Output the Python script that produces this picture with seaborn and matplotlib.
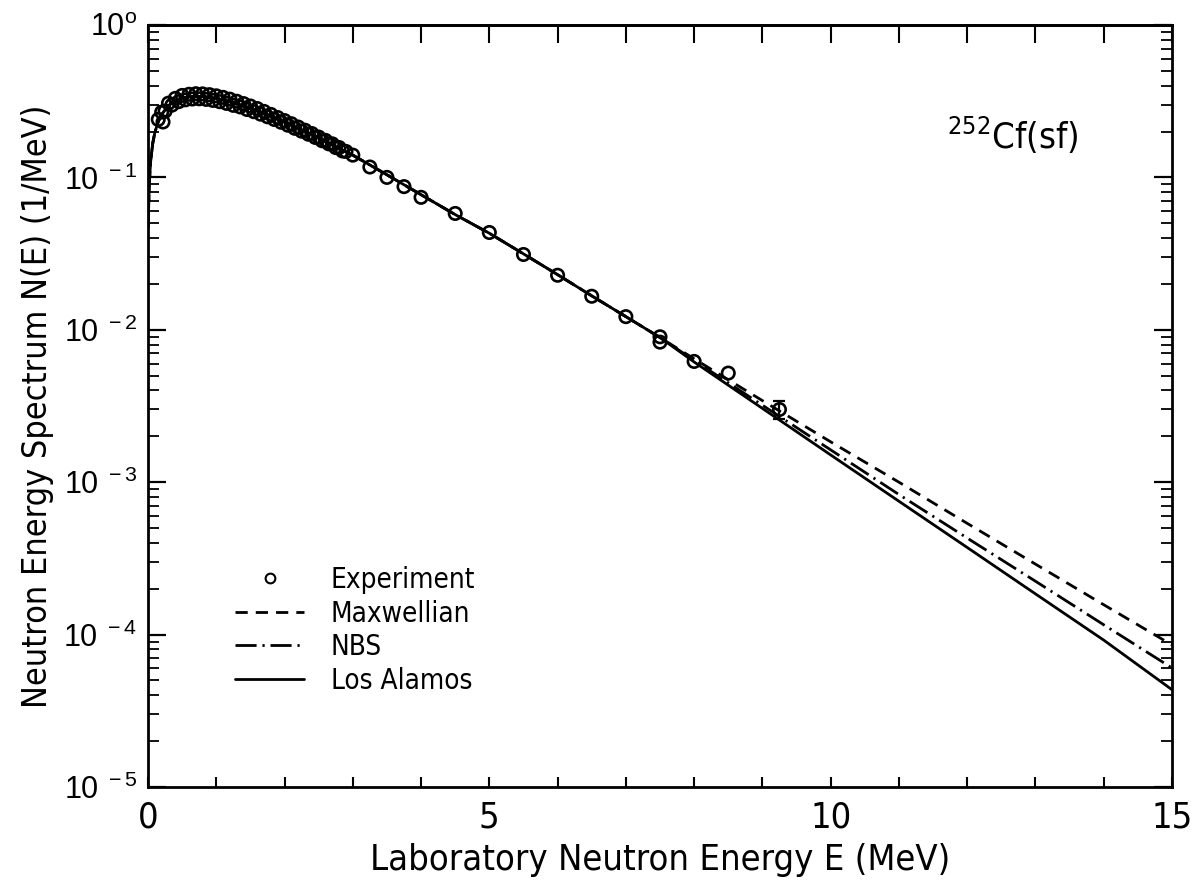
import numpy as np
import pandas as pd
import matplotlib
matplotlib.use("Agg")
import matplotlib.pyplot as plt
import seaborn as sns
from matplotlib.lines import Line2D
from matplotlib.font_manager import FontProperties
from matplotlib.ticker import FixedLocator, MultipleLocator, FuncFormatter, NullFormatter, LogLocator

# ---------------- data ----------------
curve_E_low = [0.005, 0.01, 0.02, 0.04, 0.07, 0.1, 0.15, 0.2, 0.3, 0.4, 0.5, 0.6,
               0.7, 0.8, 0.9, 1.0, 1.2, 1.4, 1.6, 1.8, 2.0, 2.2, 2.4, 2.6, 2.8,
               3.0, 3.5, 4.0, 4.5, 5.0, 5.5, 6.0, 6.5, 7.0, 7.5]
curve_N_low = [0.047, 0.066, 0.093, 0.130, 0.168, 0.197, 0.232, 0.259, 0.296, 0.318,
               0.331, 0.338, 0.341, 0.339, 0.336, 0.330, 0.314, 0.294, 0.273, 0.252,
               0.231, 0.210, 0.191, 0.172, 0.155, 0.140, 0.104, 0.077, 0.057, 0.043,
               0.0315, 0.0230, 0.0167, 0.0122, 0.0089]

tail_E = [8, 9, 10, 11, 12, 13, 14, 15]
maxwellian_tail = [6.45e-3, 3.43e-3, 1.84e-3, 1.00e-3, 5.37e-4, 2.90e-4, 1.57e-4, 8.55e-5]
nbs_tail        = [6.30e-3, 3.20e-3, 1.63e-3, 8.30e-4, 4.30e-4, 2.24e-4, 1.16e-4, 6.04e-5]
losalamos_tail  = [6.15e-3, 3.05e-3, 1.51e-3, 7.50e-4, 3.73e-4, 1.85e-4, 9.20e-5, 4.35e-5]

exp_E = [0.15, 0.20, 0.22, 0.25, 0.30, 0.35, 0.40, 0.45, 0.50, 0.55, 0.60, 0.65, 0.70,
         0.75, 0.80, 0.85, 0.90, 0.95, 1.00, 1.05, 1.10, 1.15, 1.20, 1.25, 1.30,
         1.35, 1.40, 1.45, 1.50, 1.55, 1.60, 1.65, 1.70, 1.75, 1.80, 1.85, 1.90,
         1.95, 2.00, 2.05, 2.10, 2.15, 2.20, 2.25, 2.30, 2.35, 2.40, 2.45, 2.50,
         2.55, 2.60, 2.65, 2.70, 2.75, 2.80, 2.85, 2.90,
         3.00, 3.25, 3.50, 3.75, 4.00, 4.50, 5.00, 5.50, 6.00, 6.50, 7.00, 7.50,
         7.50, 8.00, 8.50, 9.25]
exp_N = [0.240, 0.268, 0.231, 0.272, 0.307, 0.298, 0.330, 0.314, 0.345, 0.323, 0.351,
         0.327, 0.354, 0.328, 0.353, 0.325, 0.349, 0.320, 0.343, 0.314, 0.335, 0.306,
         0.326, 0.297, 0.316, 0.290, 0.305, 0.279, 0.294, 0.270, 0.283, 0.260, 0.271,
         0.250, 0.259, 0.240, 0.247, 0.230, 0.236, 0.220, 0.225, 0.210, 0.214, 0.201,
         0.204, 0.192, 0.194, 0.183, 0.184, 0.174, 0.175, 0.166, 0.166, 0.157, 0.157,
         0.149, 0.148,
         0.140, 0.117, 0.100, 0.087, 0.074, 0.058, 0.0435, 0.0312, 0.0228, 0.0166,
         0.0122, 0.0083, 0.0090, 0.0062, 0.0052, 0.0030]
exp_err_E = [9.25]
exp_err_N = [0.0030]
exp_err = [0.0004]

y_ticks = [1e-5, 1e-4, 1e-3, 1e-2, 1e-1, 1e0]
x_ticks = [0, 5, 10, 15]

# ---------------- style ----------------
sns.set_style("ticks")
plt.rcParams["font.family"] = ["DejaVu Sans"]
plt.rcParams["font.stretch"] = "condensed"
plt.rcParams["text.color"] = "black"
plt.rcParams["axes.labelcolor"] = "black"
plt.rcParams["xtick.color"] = "black"
plt.rcParams["ytick.color"] = "black"
plt.rcParams["axes.edgecolor"] = "black"
plt.rcParams["axes.linewidth"] = 2.0

cond = dict(family="DejaVu Sans", stretch="condensed")

fig = plt.figure(figsize=(11.98, 8.83), dpi=100)
ax = fig.add_axes([148 / 1198, 1 - 787 / 883, (1172 - 148) / 1198, (787 - 25) / 883])

maxw = pd.DataFrame({"E": curve_E_low + tail_E, "N": curve_N_low + maxwellian_tail})
nbs = pd.DataFrame({"E": curve_E_low + tail_E, "N": curve_N_low + nbs_tail})
lanl = pd.DataFrame({"E": curve_E_low + tail_E, "N": curve_N_low + losalamos_tail})
expdf = pd.DataFrame({"E": exp_E, "N": exp_N})

lw = 2.0
ls_max = (0, (4.4, 2.9))
ls_nbs = (0, (7.6, 2.1, 0.8, 2.1))
sns.lineplot(data=maxw, x="E", y="N", ax=ax, color="black", linewidth=lw,
             linestyle=ls_max, sort=False, errorbar=None)
sns.lineplot(data=nbs, x="E", y="N", ax=ax, color="black", linewidth=lw,
             linestyle=ls_nbs, sort=False, errorbar=None)
sns.lineplot(data=lanl, x="E", y="N", ax=ax, color="black", linewidth=lw,
             linestyle="-", sort=False, errorbar=None)
ax.scatter(expdf["E"], expdf["N"], s=80, facecolors="none", edgecolors="black",
           linewidths=1.9, zorder=5)
ax.errorbar(exp_err_E, exp_err_N, yerr=exp_err, fmt="none", ecolor="black",
            elinewidth=1.6, capsize=4, capthick=1.6, zorder=5)

ax.set_yscale("log")
ax.set_xlim(0, 15)
ax.set_ylim(1e-5, 1)

ax.xaxis.set_major_locator(FixedLocator(x_ticks))
ax.xaxis.set_minor_locator(MultipleLocator(1))
ax.yaxis.set_major_locator(FixedLocator(y_ticks))
ax.yaxis.set_minor_locator(LogLocator(base=10, subs=np.arange(2, 10)))
ax.yaxis.set_minor_formatter(NullFormatter())

def yfmt(v, pos):
    e = int(round(np.log10(v)))
    if e == 0:
        return r"$\mathregular{10^{o}}$"
    return r"$\mathregular{10^{\ -%d}}$" % (-e)

ax.yaxis.set_major_formatter(FuncFormatter(yfmt))
ax.xaxis.set_major_formatter(FuncFormatter(lambda v, p: "%d" % v))

ax.tick_params(axis="x", which="both", direction="in", top=False, bottom=True,
               length=7, width=1.5, pad=10, labelsize=26)
ax.tick_params(axis="y", which="major", direction="in", left=True, right=True,
               length=13, width=1.6, pad=8, labelsize=22)
ax.tick_params(axis="y", which="minor", direction="in", left=True, right=True,
               length=8, width=1.3)
for lab in ax.get_yticklabels():
    lab.set_fontfamily(["Liberation Sans", "DejaVu Sans"])
    lab.set_fontstretch("normal")
for lab in ax.get_xticklabels():
    lab.set_fontproperties(FontProperties(size=26, **cond))

top = ax.secondary_xaxis("top")
top.xaxis.set_major_locator(MultipleLocator(1))
top.tick_params(axis="x", which="both", direction="in", length=13, width=1.5,
                labeltop=False)
top.spines["top"].set_linewidth(2.0)

for s in ax.spines.values():
    s.set_linewidth(2.0)
    s.set_visible(True)

ax.set_xlabel("Laboratory Neutron Energy E (MeV)", fontsize=26, labelpad=6, **cond)
ax.set_ylabel("Neutron Energy Spectrum N(E) (1/MeV)", fontsize=24.5, labelpad=7, **cond)

ax.text(0.780, 0.855, r"$\mathregular{^{252}Cf(sf)}$", transform=ax.transAxes,
        fontsize=26, ha="left", va="center", **cond)

handles = [
    Line2D([], [], marker="o", markersize=7, markerfacecolor="none",
           markeredgecolor="black", markeredgewidth=1.5, linestyle="none"),
    Line2D([], [], color="black", linewidth=lw, linestyle=ls_max),
    Line2D([], [], color="black", linewidth=lw, linestyle=ls_nbs),
    Line2D([], [], color="black", linewidth=lw, linestyle="-"),
]
labels = ["Experiment", "Maxwellian", "NBS", "Los Alamos"]
ax.legend(handles, labels, loc="upper left", bbox_to_anchor=(0.085, 0.29),
          frameon=False, prop=FontProperties(size=20, **cond), handlelength=2.5,
          handletextpad=0.95, labelspacing=0.2, borderpad=0, borderaxespad=0,
          numpoints=1)

fig.savefig("out.png", dpi=100)
